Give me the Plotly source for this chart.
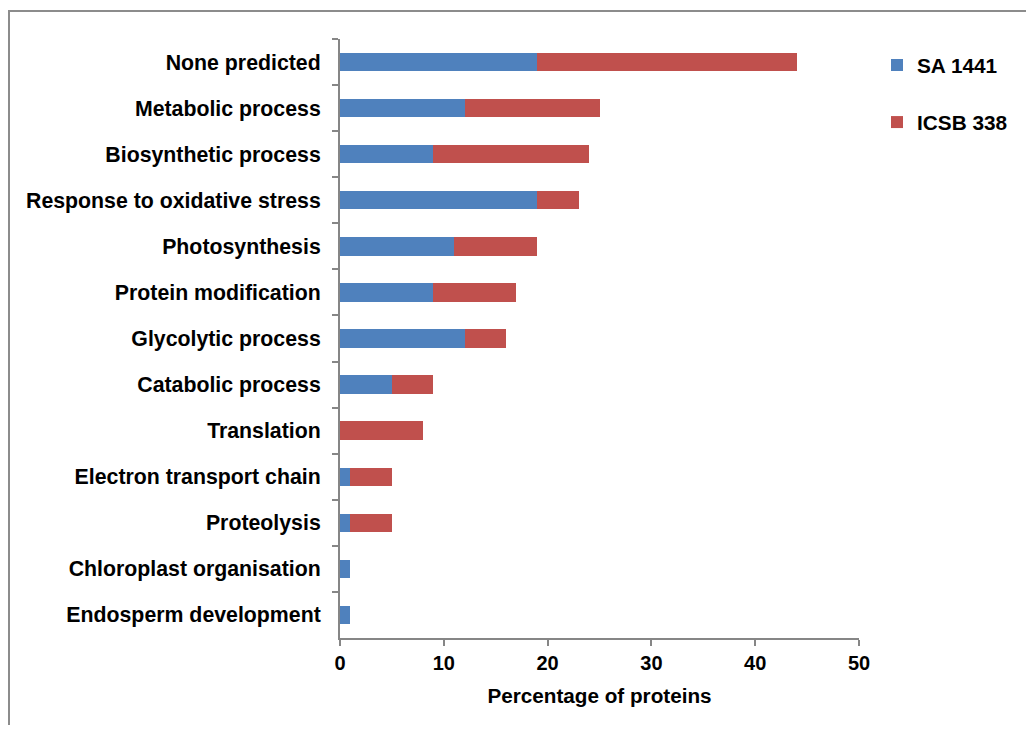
import plotly.graph_objects as go

categories = [
    "None predicted", "Metabolic process", "Biosynthetic process",
    "Response to oxidative stress", "Photosynthesis", "Protein modification",
    "Glycolytic process", "Catabolic process", "Translation",
    "Electron transport chain", "Proteolysis", "Chloroplast organisation",
    "Endosperm development",
]
sa_1441 = [19, 12, 9, 19, 11, 9, 12, 5, 0, 1, 1, 1, 1]
icsb_338 = [25, 13, 15, 4, 8, 8, 4, 4, 8, 4, 4, 0, 0]
x_ticks = [0, 10, 20, 30, 40, 50]

# page body adds an 8px margin, so the figure is drawn at (8, 8)
W, H = 1018, 717
L, R, T, B = 332, 167, 31, 87
pw, ph = W - L - R, H - T - B

FONT = "Liberation Sans, Arial, sans-serif"
GREY = "#868686"

fig = go.Figure()
fig.add_trace(go.Bar(y=categories, x=sa_1441, name="SA 1441", orientation="h",
                     marker=dict(color="#4F81BD", line=dict(width=0)),
                     width=0.4, legendgroup="a"))
fig.add_trace(go.Bar(y=categories, x=icsb_338, name="ICSB 338", orientation="h",
                     marker=dict(color="#C0504D", line=dict(width=0)),
                     width=0.4, legendgroup="b"))

# outer chart border (extends past window right/bottom)
fig.add_shape(type="rect", xref="paper", yref="paper",
              x0=(1 - L) / pw, x1=(W + 20 - L) / pw,
              y0=-(B + 20) / ph, y1=(H - B - 3) / ph,
              line=dict(color="#8C8C8C", width=2), fillcolor="rgba(0,0,0,0)",
              layer="below")

fig.update_layout(
    width=W, height=H,
    margin=dict(l=L, r=R, t=T, b=B, autoexpand=False),
    barmode="stack",
    plot_bgcolor="white", paper_bgcolor="white",
    font=dict(family=FONT, size=20, color="black"),
    showlegend=True,
    legend=dict(x=(869 - L) / pw, y=(H - B - 37) / ph, xanchor="left", yanchor="top",
                traceorder="grouped", tracegroupgap=27,
                font=dict(family=FONT, size=20.8, color="black", weight="bold"),
                bgcolor="rgba(0,0,0,0)"),
    xaxis=dict(range=[0, 50], tickvals=x_ticks, ticks="outside", ticklen=6,
               tickcolor=GREY, tickwidth=2, showline=True, linecolor=GREY, linewidth=2,
               showgrid=False, zeroline=False,
               tickfont=dict(family=FONT, size=20, color="black", weight="bold"),
               title=dict(text="Percentage of proteins", standoff=16,
                          font=dict(family=FONT, size=20.7, color="black", weight="bold"))),
    yaxis=dict(autorange="reversed", type="category", tickson="boundaries",
               ticks="outside", ticklen=6, tickcolor=GREY, tickwidth=2,
               showline=True, linecolor=GREY, linewidth=2, showgrid=False,
               zeroline=False, ticklabelstandoff=13,
               tickfont=dict(family=FONT, size=21.3, color="black", weight="bold")),
)

fig.write_html("out.html")
